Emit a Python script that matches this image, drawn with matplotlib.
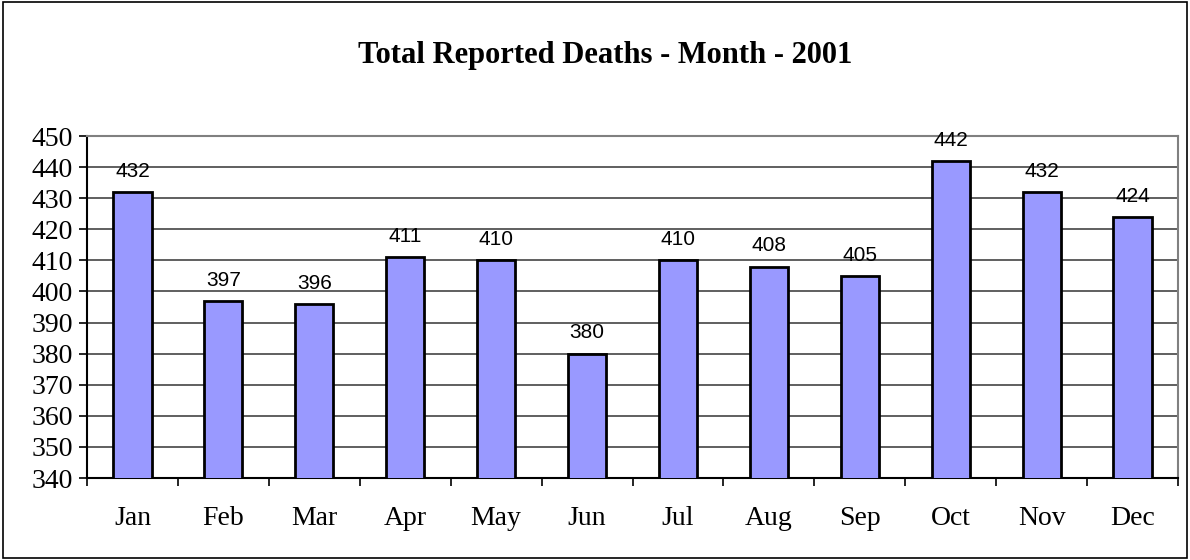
import matplotlib
matplotlib.use("Agg")
import matplotlib.pyplot as plt
from matplotlib.patches import Rectangle
import numpy as np

months = ["Jan", "Feb", "Mar", "Apr", "May", "Jun", "Jul", "Aug", "Sep", "Oct", "Nov", "Dec"]
deaths = [432, 397, 396, 411, 410, 380, 410, 408, 405, 442, 432, 424]
y_ticks = list(range(340, 451, 10))

serif = "Liberation Serif"
sans = "Liberation Sans"

fig = plt.figure(figsize=(11.9, 5.6), dpi=100)
# outer frame around the whole chart
fig.patches.append(Rectangle((0.0025, 0.003), 0.995, 0.994, transform=fig.transFigure,
                             fill=False, edgecolor="black", linewidth=1.2))

ax = fig.add_axes([87 / 1190, 1 - 478 / 560, (1178 - 87) / 1190, (478 - 136) / 560])

x = np.arange(len(months))
ax.bar(x, deaths, width=0.42, bottom=0, color="#9999FF", edgecolor="black",
       linewidth=2, zorder=3)
for xi, v in zip(x, deaths):
    ax.text(xi, v + 3.6, str(v), ha="center", va="bottom", fontsize=15,
            family=sans, zorder=4)

ax.set_xlim(-0.5, len(months) - 0.5)
ax.set_ylim(340, 450)
ax.set_yticks(y_ticks)
ax.set_yticklabels([str(t) for t in y_ticks], family=serif, fontsize=20)
ax.yaxis.grid(True, color="#444444", linewidth=1.2, zorder=0)

ax.set_xticks(x)
ax.set_xticklabels(months, family=serif, fontsize=20)
ax.tick_params(axis="x", length=0, pad=20)
ax.set_xticks(np.arange(-0.5, len(months), 1), minor=True)
ax.tick_params(axis="x", which="minor", length=6, width=1.2, direction="out", color="black")
ax.tick_params(axis="y", length=6, width=1.2, direction="out", pad=4)

for side in ["top", "right"]:
    ax.spines[side].set_color("#808080")
    ax.spines[side].set_linewidth(1.5)
for side in ["left", "bottom"]:
    ax.spines[side].set_color("black")
    ax.spines[side].set_linewidth(1.5)

fig.text(605 / 1190, 1 - 56 / 560, "Total Reported Deaths - Month - 2001",
         ha="center", va="center", fontsize=22, fontweight="bold", family=serif)

fig.savefig("out.png", dpi=100)
